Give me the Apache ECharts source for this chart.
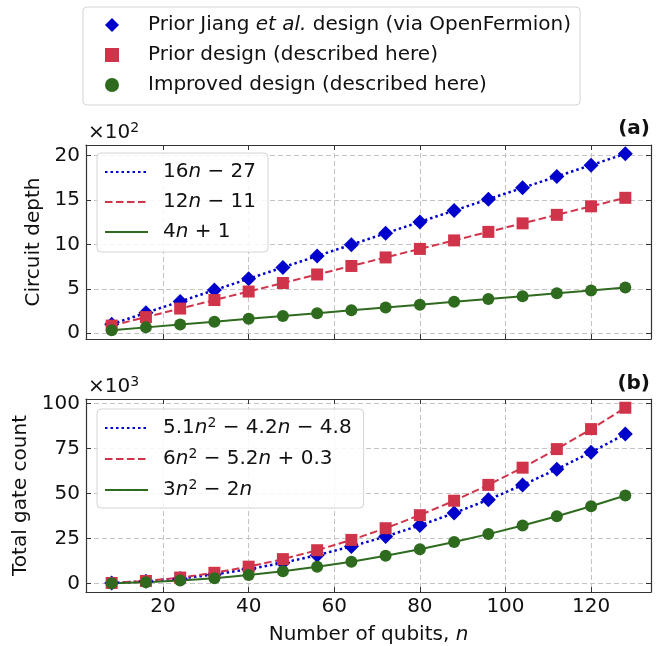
<!DOCTYPE html>
<html>
<head>
<meta charset="utf-8">
<script src="https://cdn.jsdelivr.net/npm/echarts@6/dist/echarts.min.js"></script>
<style>html,body{margin:0;background:#fff}#main{width:664px;height:646px}</style>
</head>
<body>
<div id="main"></div>
<script>
// number of qubits n
var qubits=[8,16,24,32,40,48,56,64,72,80,88,96,104,112,120,128];
// circuit depth (x10^2)
var depthJiang=[1.01,2.29,3.57,4.85,6.13,7.41,8.69,9.97,11.25,12.53,13.81,15.09,16.37,17.65,18.93,20.21];
var depthPrior=[0.85,1.81,2.77,3.73,4.69,5.65,6.61,7.57,8.53,9.49,10.45,11.41,12.37,13.33,14.29,15.25];
var depthImproved=[0.33,0.65,0.97,1.29,1.61,1.93,2.25,2.57,2.89,3.21,3.53,3.85,4.17,4.49,4.81,5.13];
// total gate count (x10^3)
var gatesJiang=[0.29,1.23,2.83,5.08,7.99,11.54,15.75,20.62,26.13,32.30,39.12,46.59,54.72,63.50,72.93,83.02];
var gatesPrior=[0.34,1.45,3.33,5.98,9.39,13.57,18.52,24.24,30.73,37.98,46.01,54.80,64.36,74.68,85.78,97.64];
var gatesImproved=[0.18,0.74,1.68,3.01,4.72,6.82,9.30,12.16,15.41,19.04,23.06,27.46,32.24,37.41,42.96,48.90];
// ticks
var xTicks=[20,40,60,80,100,120];
var depthTicks=[0,5,10,15,20];
var gateTicks=[0,25,50,75,100];
// legend names
var markerNames=['Prior Jiang et al. design (via OpenFermion)','Prior design (described here)','Improved design (described here)'];
var depthFits=['16n-27','12n-11','4n+1'];
var gateFits=['5.1n2-4.2n-4.8','6n2-5.2n+0.3','3n2-2n'];
var fitLabels={
  'Prior Jiang et al. design (via OpenFermion)':'Prior Jiang {i|et al.} design (via OpenFermion)',
  'Prior design (described here)':'Prior design (described here)',
  'Improved design (described here)':'Improved design (described here)',
  '16n-27':'16{i|n} \u2212 27',
  '12n-11':'12{i|n} \u2212 11',
  '4n+1':'4{i|n} + 1',
  '5.1n2-4.2n-4.8':'5.1{i|n}{s|2} \u2212 4.2{i|n} \u2212 4.8',
  '6n2-5.2n+0.3':'6{i|n}{s|2} \u2212 5.2{i|n} + 0.3',
  '3n2-2n':'3{i|n}{s|2} \u2212 2{i|n}'
};

var F='DejaVu Sans',TXT='#111',FS=20;
var BLUE='#0000cc',RED='#d0344a',GREEN='#2e6b1e';
var rich={
  i:{fontStyle:'italic',fontFamily:F,fontSize:FS,color:TXT},
  s:{fontFamily:F,fontSize:14,color:TXT,padding:[0,0,10,0]}
};

function pairs(arr){
  return qubits.map(function(n,i){return [n,arr[i]]});
}

function xAx(grid,pos,labels,name){
  return {
    type:'value',gridIndex:grid,position:pos,min:2,max:134,
    name:name||'',nameLocation:'middle',nameGap:33,
    nameTextStyle:{fontFamily:F,fontSize:FS,color:TXT,rich:rich},
    axisLine:{onZero:false,lineStyle:{color:'#333',width:1.2}},
    axisTick:{inside:true,length:5,customValues:xTicks,lineStyle:{color:'#333'}},
    axisLabel:{show:labels,customValues:xTicks,margin:5,fontFamily:F,fontSize:FS,color:TXT},
    splitLine:{show:pos=='bottom',lineStyle:{color:'#c4c4c4',type:[5,3],width:1}}
  };
}
function yAx(grid,pos,min,max,ticks,name,gap){
  return {
    type:'value',gridIndex:grid,position:pos,min:min,max:max,
    name:name||'',nameLocation:'middle',nameGap:gap||0,
    nameTextStyle:{fontFamily:F,fontSize:FS,color:TXT},
    axisLine:{onZero:false,lineStyle:{color:'#333',width:1.2}},
    axisTick:{inside:true,length:5,customValues:ticks,lineStyle:{color:'#333'}},
    axisLabel:{show:pos=='left',customValues:ticks,margin:6,fontFamily:F,fontSize:FS,color:TXT},
    splitLine:{show:pos=='left',lineStyle:{color:'#c4c4c4',type:[5,3],width:1}}
  };
}
function fitLine(name,x,y,arr,color,type,w){
  return {type:'line',name:name,xAxisIndex:x,yAxisIndex:y,data:pairs(arr),symbol:'none',
    lineStyle:{color:color,type:type,width:w,cap:'butt'},itemStyle:{color:color},z:2};
}
function dots(name,x,y,arr,color,sym,size){
  return {type:'scatter',name:name,xAxisIndex:x,yAxisIndex:y,data:pairs(arr),symbol:sym,symbolSize:size,
    itemStyle:{color:color,opacity:1},z:3};
}
function legendBox(data,left,top,pad,w,h,textPad,hideSymbol){
  var lg={
    data:data,orient:'vertical',left:left,top:top,padding:pad,itemGap:8,
    itemWidth:w,itemHeight:h,
    backgroundColor:'rgba(255,255,255,0.85)',borderColor:'#d4d4d4',borderWidth:1,borderRadius:4,
    formatter:function(n){return fitLabels[n]},
    textStyle:{fontFamily:F,fontSize:FS,color:TXT,lineHeight:22,padding:[0,0,0,textPad],rich:rich}
  };
  if(hideSymbol) lg.itemStyle={color:'rgba(0,0,0,0)',borderWidth:0};
  return lg;
}

var chart=echarts.init(document.getElementById('main'),null,{renderer:'canvas'});
chart.setOption({
  animation:false,
  backgroundColor:'#fff',
  grid:[
    {left:86,top:145,width:565,height:194},
    {left:86,top:399,width:565,height:194}
  ],
  xAxis:[
    xAx(0,'bottom',false),
    xAx(0,'top',false),
    xAx(1,'bottom',true,'Number of qubits, {i|n}'),
    xAx(1,'top',false)
  ],
  yAxis:[
    yAx(0,'left',-0.66,21.2,depthTicks,'Circuit depth',41),
    yAx(0,'right',-0.66,21.2,depthTicks),
    yAx(1,'left',-4.69,102.5,gateTicks,'Total gate count',53),
    yAx(1,'right',-4.69,102.5,gateTicks)
  ],
  legend:[
    legendBox(markerNames,83,7,[7,9,9,22],14,14,24,false),
    legendBox(depthFits,97,153,[8,12,9,7],43,14,10,true),
    legendBox(gateFits,97,409,[7,12,7,7],43,14,10,true)
  ],
  graphic:[
    {type:'text',left:88,top:121,style:{text:'\u00d710{s|2}',font:FS+'px '+F,fill:TXT,rich:rich}},
    {type:'text',left:88,top:375,style:{text:'\u00d710{s|3}',font:FS+'px '+F,fill:TXT,rich:rich}},
    {type:'text',right:14,top:119,style:{text:'(a)',font:'bold '+FS+'px '+F,fill:TXT}},
    {type:'text',right:14,top:374,style:{text:'(b)',font:'bold '+FS+'px '+F,fill:TXT}}
  ],
  series:[
    fitLine(depthFits[0],0,0,depthJiang,BLUE,[2.5,3],2.5),
    fitLine(depthFits[1],0,0,depthPrior,RED,[7.5,3.5],2),
    fitLine(depthFits[2],0,0,depthImproved,GREEN,'solid',2),
    fitLine(gateFits[0],2,2,gatesJiang,BLUE,[2.5,3],2.5),
    fitLine(gateFits[1],2,2,gatesPrior,RED,[7.5,3.5],2),
    fitLine(gateFits[2],2,2,gatesImproved,GREEN,'solid',2),
    dots(markerNames[0],0,0,depthJiang,BLUE,'diamond',15),
    dots(markerNames[1],0,0,depthPrior,RED,'rect',12),
    dots(markerNames[2],0,0,depthImproved,GREEN,'circle',12),
    dots(markerNames[0],2,2,gatesJiang,BLUE,'diamond',15),
    dots(markerNames[1],2,2,gatesPrior,RED,'rect',12),
    dots(markerNames[2],2,2,gatesImproved,GREEN,'circle',12)
  ]
});
</script>
</body>
</html>
